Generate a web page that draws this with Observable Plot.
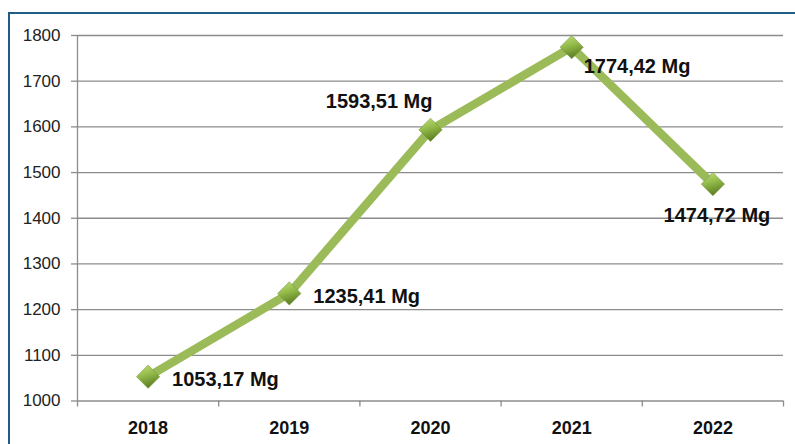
<!DOCTYPE html>
<html><head><meta charset="utf-8">
<script src="https://cdn.jsdelivr.net/npm/d3@7"></script>
<script src="https://cdn.jsdelivr.net/npm/@observablehq/plot@0.6"></script>
<style>
body{margin:0;background:#fff;}
#wrap{position:relative;width:795px;height:444px;overflow:hidden;background:#fff;}
#frame{position:absolute;left:8px;top:12px;width:820px;height:460px;border-top:2px solid #1f5d87;border-left:2px solid #1f5d87;box-sizing:border-box;}
#wrap svg{position:absolute;left:0;top:0;}
</style></head><body><div id="wrap"><div id="frame"></div></div>
<script>
// ---- data ----
const years = [2018, 2019, 2020, 2021, 2022];
const values = [1053.17, 1235.41, 1593.51, 1774.42, 1474.72];
const yTicks = [1000, 1100, 1200, 1300, 1400, 1500, 1600, 1700, 1800];
const unit = "Mg";

const data = years.map((year, i) => ({year, value: values[i]}));
const boundaries = years.map(y => y - 0.5).concat([years[years.length - 1] + 0.5]);
const fmt = v => v.toFixed(2).replace(".", ",") + " " + unit;
const font = "'Liberation Sans', Arial, sans-serif";

const label = (which, opts) => Plot.text(data.filter(d => which.includes(d.year)), {
  x: "year", y: "value", text: d => fmt(d.value),
  fontSize: 20, fontWeight: "bold", fill: "#111", ...opts
});

const svg = Plot.plot({
  width: 795, height: 444,
  marginLeft: 77, marginRight: 12, marginTop: 35, marginBottom: 43.5,
  style: {fontFamily: font, background: "transparent", overflow: "visible"},
  x: {domain: [boundaries[0], boundaries[boundaries.length - 1]], axis: null},
  y: {domain: [yTicks[0], yTicks[yTicks.length - 1]], axis: null},
  marks: [
    Plot.gridY(yTicks.slice(1), {stroke: "#8c8c8c", strokeOpacity: 1, strokeWidth: 1.3}),
    Plot.axisY({ticks: yTicks, tickSize: 6, tickPadding: 11, tickFormat: "d", label: null,
      stroke: "#8c8c8c", strokeWidth: 1.3, fill: "#222", fontSize: 17}),
    Plot.axisX({ticks: boundaries, tickSize: 6, tickFormat: () => "", label: null,
      stroke: "#8c8c8c", strokeWidth: 1.3}),
    Plot.axisX({ticks: years, tickSize: 0, tickPadding: 20, tickFormat: "d", label: null,
      fill: "#111", fontSize: 18, fontWeight: "bold"}),
    Plot.ruleX([boundaries[0]], {stroke: "#8c8c8c", strokeWidth: 1.3}),
    Plot.ruleY([yTicks[0]], {stroke: "#8c8c8c", strokeWidth: 1.3}),
    Plot.line(data, {x: "year", y: "value", stroke: "#9bbb59", strokeWidth: 8.5, strokeLinejoin: "round"}),
    Plot.dot(data, {x: "year", y: "value", symbol: "diamond2", r: 10.5, fill: "url(#dg)", stroke: "#6f8f32", strokeWidth: 0.5}),
    label([2018, 2019], {textAnchor: "start", dx: 24, dy: 3}),
    label([2020], {textAnchor: "end", dx: 2, dy: -28}),
    label([2021], {textAnchor: "start", dx: 12, dy: 19}),
    label([2022], {textAnchor: "middle", dx: 4, dy: 31})
  ]
});

const defs = d3.select(svg).insert("defs", ":first-child");
const g = defs.append("linearGradient").attr("id", "dg").attr("x1", "0").attr("y1", "0").attr("x2", "0.3").attr("y2", "1");
g.append("stop").attr("offset", "0%").attr("stop-color", "#c2e07c");
g.append("stop").attr("offset", "50%").attr("stop-color", "#93bb4a");
g.append("stop").attr("offset", "100%").attr("stop-color", "#5e8124");

document.getElementById("wrap").appendChild(svg);
</script>
</body></html>
